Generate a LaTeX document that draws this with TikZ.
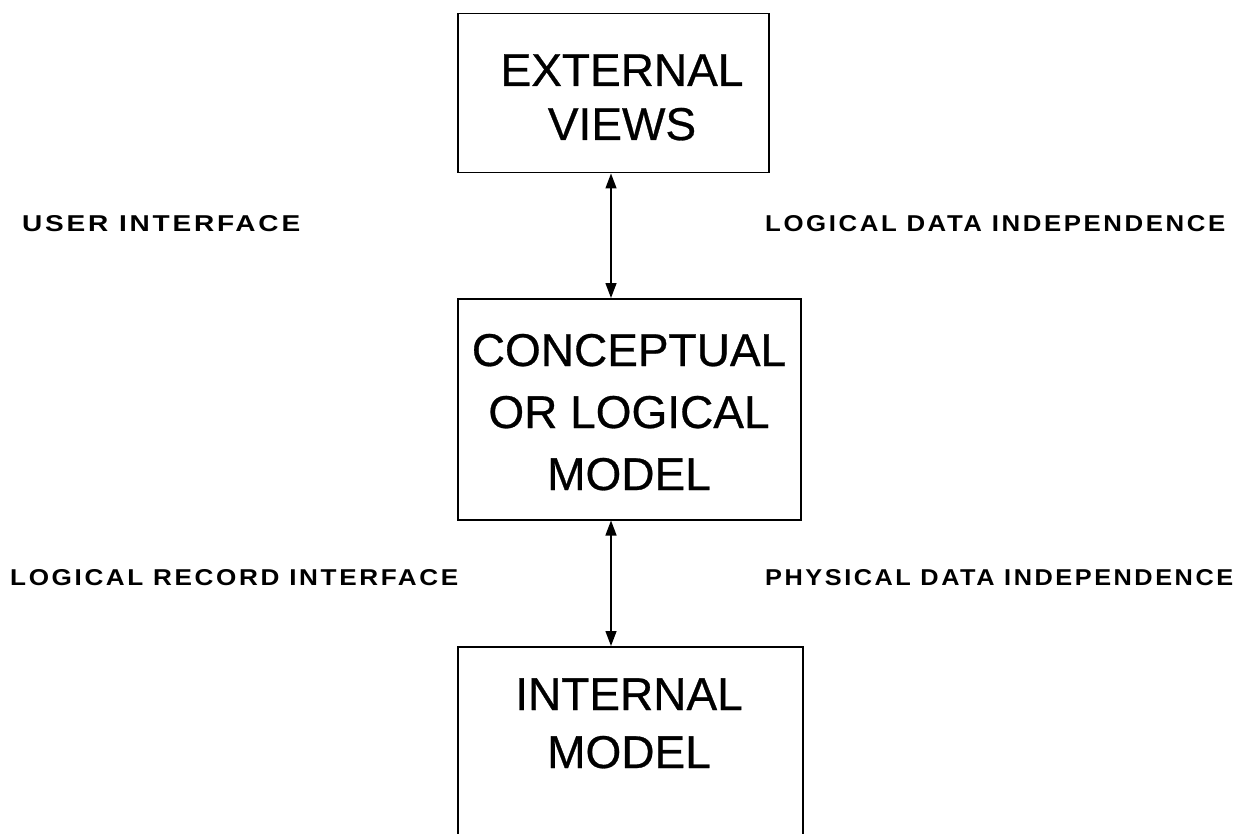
\documentclass[tikz,border=0pt]{standalone}
\usepackage{fontspec}
\setmainfont{Liberation Sans}
\newfontfamily\boxfont{Liberation Sans}[FakeBold=0.6]
\newfontfamily\lblfont{Liberation Sans}[LetterSpace=10]
\usetikzlibrary{arrows.meta}
\begin{document}
\begin{tikzpicture}[x=1pt,y=-1pt,
  box/.style={draw, line width=1.5pt, inner sep=0pt, anchor=north west},
  line/.style={font=\boxfont\fontsize{46}{55}\selectfont, inner sep=0pt, anchor=base},
  lbl/.style={inner sep=0pt, anchor=base west},
  link/.style={line width=1.4pt,
    {Triangle[width=11pt,length=15pt]}-{Triangle[width=11pt,length=15pt]}}]
\useasboundingbox (0,0) rectangle (1249,834);
\fill[white] (0,0) rectangle (1249,834);
\clip (0,0) rectangle (1249,834);

% the three levels
\node[box, minimum width=311pt, minimum height=159pt] (ext) at (457,13) {};
\node[box, minimum width=343pt, minimum height=221pt] (con) at (457,298) {};
\node[box, minimum width=345pt, minimum height=220pt] (int) at (457,646) {};

% box texts
\node[line] (e1) at (622,86) {EXTERNAL};
\node[line] (e2) at (622,140) {VIEWS};
\node[line] (c1) at (629,366) {CONCEPTUAL};
\node[line] (c2) at (629,428) {OR LOGICAL};
\node[line] (c3) at (629,490) {MODEL};
\node[line] (i1) at (629,710) {INTERNAL};
\node[line] (i2) at (629,768) {MODEL};

% mappings between levels
\coordinate (ax) at (611,0);
\draw[link] (ext.south -| ax) -- (con.north -| ax);
\draw[link] (con.south -| ax) -- (int.north -| ax);

% interface labels
\node[lbl] (ui) at (22,232) {\resizebox{278pt}{16pt}{\lblfont\bfseries USER INTERFACE}};
\node[lbl] (ldi) at (765,232) {\resizebox{460pt}{16pt}{\lblfont\bfseries LOGICAL DATA INDEPENDENCE}};
\node[lbl] (lri) at (10,585) {\resizebox{448pt}{16pt}{\lblfont\bfseries LOGICAL RECORD INTERFACE}};
\node[lbl] (pdi) at (765,585) {\resizebox{468pt}{16pt}{\lblfont\bfseries PHYSICAL DATA INDEPENDENCE}};
\end{tikzpicture}
\end{document}
